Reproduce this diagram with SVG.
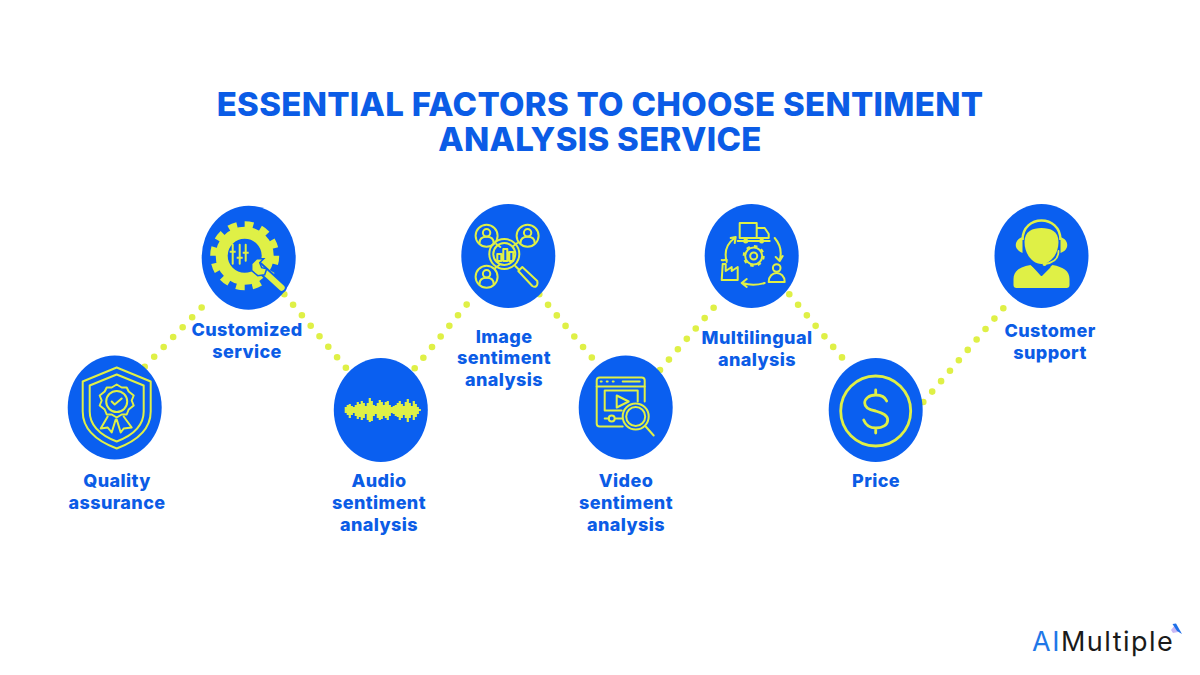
<svg xmlns="http://www.w3.org/2000/svg" width="1200" height="675" viewBox="0 0 1200 675">
<style>
.title{font-family:"Inter","Liberation Sans",sans-serif;font-weight:800;font-size:33px;letter-spacing:.3px;fill:#0b5ce6;text-anchor:middle}
.label{font-family:"Inter","Liberation Sans",sans-serif;font-weight:800;font-size:18px;letter-spacing:.4px;fill:#0b5ce6;text-anchor:middle}
.disc{fill:#0a5ff0}
.dots{fill:none;stroke:#dff046;stroke-width:6.6;stroke-linecap:round;stroke-dasharray:0 13.7}
.ln{fill:none;stroke:#dff046;stroke-width:2;stroke-linejoin:round;stroke-linecap:round}
.fl{fill:#dff046}
.cut{fill:none;stroke:#0a5ff0;stroke-width:2;stroke-linecap:round;stroke-linejoin:round}
</style>
<rect width="1200" height="675" fill="#ffffff"/>
<text class="title" x="600" y="116">ESSENTIAL FACTORS TO CHOOSE SENTIMENT</text>
<text class="title" x="600" y="151">ANALYSIS SERVICE</text>
<g id="connectors">
<line class="dots" x1="144.7" y1="366.7" x2="211" y2="297.7"/>
<line class="dots" x1="284.3" y1="294.3" x2="346.3" y2="368.3"/>
<line class="dots" x1="414.7" y1="368.3" x2="475" y2="294.4"/>
<line class="dots" x1="539.3" y1="294.3" x2="592.2" y2="358"/>
<line class="dots" x1="660" y1="370" x2="722" y2="298"/>
<line class="dots" x1="789.3" y1="294.3" x2="842.5" y2="358"/>
<line class="dots" x1="923.3" y1="402" x2="1012" y2="298"/>
</g>
<g id="node-quality" transform="translate(114.7 407.5)">
<ellipse class="disc" rx="47" ry="52"/>
<path class="ln" d="M2,-40 L36,-26 V4 C36,24 18,35 2,41 C-14,35 -32,24 -32,4 V-26 Z"/>
<path class="ln" d="M2,-33 L29,-22 V4 C29,20 15,29 2,34 C-11,29 -25,20 -25,4 V-22 Z"/>
<path class="ln" d="M2,-23 L7,-20 L12,-20 L14,-16 L19,-12 L17,-7 L19,-2 L14,2 L12,7 L7,7 L2,10 L-3,7 L-8,7 L-10,2 L-15,-2 L-13,-7 L-15,-12 L-10,-16 L-8,-20 L-3,-20 Z"/>
<circle class="ln" cx="2" cy="-6" r="10.5"/>
<path class="ln" d="M-3,-6 L0,-3 L7,-9"/>
<path class="ln" d="M-7,9 L-14,21 L-7,20 L-3,25 L1,12 M9,9 L17,20 L9,21 L6,25 L2,12"/>
</g>
<g id="node-customized" transform="translate(248.7 257.7)">
<ellipse class="disc" rx="47" ry="52"/>
<circle cx="-4" cy="-2" r="23" fill="none" stroke="#dff046" stroke-width="12"/>
<circle cx="-4" cy="-2" r="31" fill="none" stroke="#dff046" stroke-width="7" stroke-dasharray="8.6 7.6"/>
<path class="ln" d="M-16,-13 V6 M-9,-13 V6 M-3,-13 V3" stroke-width="1.8"/>
<path class="fl" d="M-19,-7 h6 v2 h-6 Z M-12,-1 h6 v2 h-6 Z M-6,-6 h6 v2 h-6 Z"/>
<path d="M10,9 L33,30" stroke="#0a5ff0" stroke-width="10" stroke-linecap="round"/>
<path d="M10,9 L33,30" stroke="#dff046" stroke-width="6" stroke-linecap="round"/>
<path class="fl" stroke="#0a5ff0" stroke-width="1.5" d="M3,6 L3,13 L9,18 L16,17 L18,11 L13,10 L11,5 L15,1 L8,1 Z"/>
</g>
<g id="node-audio" transform="translate(380.8 410)">
<ellipse class="disc" rx="47" ry="52"/>
<path stroke="#dff046" stroke-width="2.2" fill="none" d="M-35,-3V3 M-33,-5V5 M-31,-6V8 M-29,-4V5 M-27,-3V3 M-25,-5V6 M-23,-8V9 M-21,-6V7 M-19,-9V10 M-17,-7V8 M-15,-4V4 M-13,-7V10 M-11,-12V12 M-9,-9V11 M-7,-5V6 M-5,-4V4 M-3,-7V8 M-1,-10V10 M1,-8V9 M3,-5V6 M5,-8V8 M7,-9V10 M9,-5V6 M11,-3V3 M13,-4V4 M15,-5V6 M17,-7V7 M19,-9V10 M21,-6V8 M23,-4V5 M25,-8V8 M27,-11V12 M29,-7V8 M31,-4V5 M33,-9V10 M35,-6V7 M37,-3V4 M39,-1V1"/>
</g>
<g id="node-image" transform="translate(508.3 256)">
<ellipse class="disc" rx="47" ry="52"/>
<path class="ln" d="M-12,-12 L-8,-9 M9,-13 L5,-10 M-13,12 L-9,9"/>
<g id="person-a" transform="translate(-21.7 -20.3)"><circle class="ln" r="11"/><circle class="ln" cy="-3" r="3.7"/><path class="ln" d="M-7,7 C-7,2 -4,1 0,1 C4,1 7,2 7,7"/></g>
<g id="person-b" transform="translate(19.3 -20.3)"><circle class="ln" r="11"/><circle class="ln" cy="-3" r="3.7"/><path class="ln" d="M-7,7 C-7,2 -4,1 0,1 C4,1 7,2 7,7"/></g>
<g id="person-c" transform="translate(-21.7 20.7)"><circle class="ln" r="11"/><circle class="ln" cy="-3" r="3.7"/><path class="ln" d="M-7,7 C-7,2 -4,1 0,1 C4,1 7,2 7,7"/></g>
<circle class="ln" cx="-4" cy="-2" r="15"/><circle class="ln" cx="-4" cy="-2" r="11"/>
<path class="ln" d="M-11,5 V-2 H-7 V5 Z M-5,5 V-7 H-1 V5 Z M1,5 V-4 H5 V5 Z" stroke-width="1.6"/>
<path class="ln" d="M7,10 L11,14 M10,15 L14,11 L29,25 C30,30 27,32 24,30 Z"/>
</g>
<g id="node-video" transform="translate(625.7 407.5)">
<ellipse class="disc" rx="47" ry="52"/>
<path class="ln" d="M-3,19 H-26 Q-29,19 -29,16 V-27 Q-29,-30 -26,-30 H16 Q19,-30 19,-27 V-6"/>
<path class="ln" d="M-29,-21 H19 M-25,-26 H-24 M-19,-26 H-18 M-13,-26 H-12 M-3,-26 H14"/>
<path class="ln" d="M-4,3 H-21 V-17 H12 V-6"/>
<path class="ln" d="M-9,-12 L3,-6 L-9,0 Z"/>
<path class="ln" d="M-21,11 H-17 M-10,11 H-4"/><circle class="ln" cx="-14" cy="11" r="3"/>
<circle class="ln" cx="10" cy="9" r="13"/><circle class="ln" cx="10" cy="9" r="9.5"/>
<path class="ln" d="M20,19 L28,28" stroke-width="4"/>
</g>
<g id="node-multilingual" transform="translate(751.7 256)">
<ellipse class="disc" rx="47" ry="52"/>
<path class="ln" d="M5,-18 H-12 V-33 H5 Z M5,-28 H13 L17,-22 V-18 H5 M-14,-15 H18"/>
<circle class="ln" cx="-6" cy="-15" r="1.5"/><circle class="ln" cx="10" cy="-15" r="1.5"/>
<circle cx="2" cy="0" r="8.5" fill="none" stroke="#dff046" stroke-width="2"/>
<circle cx="2" cy="0" r="10" fill="none" stroke="#dff046" stroke-width="2" stroke-dasharray="3.5 4.35"/>
<circle class="ln" cx="2" cy="0" r="3.5"/>
<path class="ln" d="M-25,6 C-28,-5 -24,-13 -17,-18 M-21,-18 L-16,-19 L-17,-13"/>
<path class="ln" d="M23,-18 C29,-11 30,-3 28,4 M31,0 L28,5 L24,1"/>
<path class="ln" d="M13,27 C6,29 0,30 -9,27 M-5,23 L-10,27 L-5,31"/>
<circle class="ln" cx="25" cy="12" r="3.8"/>
<path class="ln" d="M17,26 C17,20 21,17 25,17 C29,17 33,20 33,26 Z"/>
<path class="ln" d="M-30,24 H-14 V11 L-20,15 V11 L-26,15 V8 H-29 Z M-30,4 C-28,5 -27,3 -25,4"/>
</g>
<g id="node-price" transform="translate(875.7 410)">
<ellipse class="disc" rx="47" ry="52"/>
<circle cx="0" cy="1" r="35" fill="none" stroke="#dff046" stroke-width="2.8"/>
<path fill="none" stroke="#dff046" stroke-width="2.8" stroke-linecap="round" d="M11,-9 C9,-14 5,-15 0,-15 C-7,-15 -11,-11 -11,-7 C-11,-2 -6,0 0,1 C7,3 12,5 12,10 C12,15 7,18 0,18 C-6,18 -10,15 -12,10 M0,-20 V-15 M0,18 V23"/>
</g>
<g id="node-support" transform="translate(1041.5 256)">
<ellipse class="disc" rx="47" ry="52"/>
<path class="fl" d="M-17,-14 C-17,-25 -9,-28 0,-28 C9,-28 17,-25 17,-14 C17,-2 9,8 0,8 C-9,8 -17,-2 -17,-14 Z"/>
<path fill="none" stroke="#dff046" stroke-width="2.5" d="M-19,-16 C-19,-42 19,-42 19,-16"/>
<path class="fl" d="M-19,-19 C-28,-16 -28,-6 -19,-3 Z M19,-19 C28,-16 28,-6 19,-3 Z"/>
<path fill="none" stroke="#dff046" stroke-width="1.8" stroke-linecap="round" d="M17,-5 C17,3 12,7 3,8"/>
<circle class="fl" cx="3" cy="8" r="2"/>
<path class="fl" d="M-11,9 L0,18 L11,9 C22,11 28,15 28,23 V29 Q28,32 25,32 H-25 Q-28,32 -28,29 V23 C-28,15 -22,11 -11,9 Z"/>
<path class="cut" d="M-9,9 L0,19 L8,11" stroke-width="1.5"/>
</g>
<text class="label" x="117" y="487">Quality</text><text class="label" x="117" y="509">assurance</text>
<text class="label" x="247" y="336">Customized</text><text class="label" x="247" y="358">service</text>
<text class="label" x="379" y="487">Audio</text><text class="label" x="379" y="509">sentiment</text><text class="label" x="379" y="531">analysis</text>
<text class="label" x="504" y="343">Image</text><text class="label" x="504" y="364">sentiment</text><text class="label" x="504" y="386">analysis</text>
<text class="label" x="626" y="487">Video</text><text class="label" x="626" y="509">sentiment</text><text class="label" x="626" y="531">analysis</text>
<text class="label" x="757" y="344">Multilingual</text><text class="label" x="757" y="366">analysis</text>
<text class="label" x="876" y="487">Price</text>
<text class="label" x="1050" y="337">Customer</text><text class="label" x="1050" y="359">support</text>
<g id="logo">
<text x="1032" y="651" font-family="Inter,'Liberation Sans',sans-serif" font-size="27" letter-spacing="1.5" fill="#1a1a1a"><tspan fill="#1f78e8">AI</tspan>Multiple</text>
<path d="M1171,630 L1175,625 L1178,632 L1173,633 Z" fill="#c9b8f5"/>
<path d="M1172.5,624 L1176,623.5 L1182,634 L1177,631 Z" fill="#1f6fe8"/>
</g>
</svg>
